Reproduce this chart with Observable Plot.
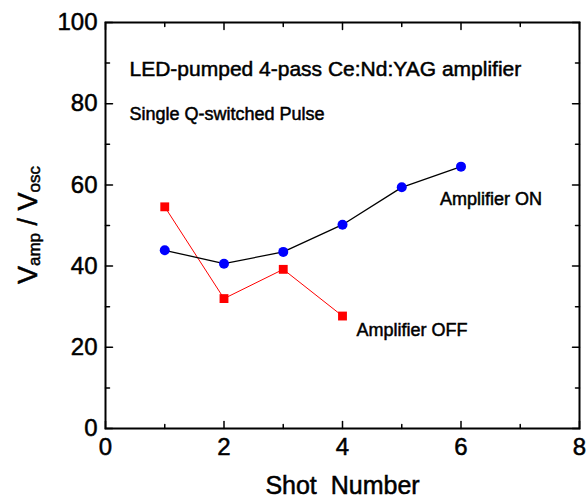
<!DOCTYPE html>
<html>
<head>
<meta charset="utf-8">
<script src="https://cdn.jsdelivr.net/npm/d3@7"></script>
<script src="https://cdn.jsdelivr.net/npm/@observablehq/plot@0.6"></script>
<style>
  body { margin: 0; background: #fff; }
  svg text { white-space: pre; }
</style>
</head>
<body>
<div id="chart"></div>
<script>
// Data
const shotsOn = [1, 2, 3, 4, 5, 6];
const ampOn = [43.9, 40.6, 43.5, 50.2, 59.4, 64.5];
const shotsOff = [1, 2, 3, 4];
const ampOff = [54.6, 32.0, 39.2, 27.7];
const xMajor = [0, 2, 4, 6, 8];
const xMinor = [1, 3, 5, 7];
const yMajor = [0, 20, 40, 60, 80, 100];
const yMinor = [10, 30, 50, 70, 90];
const titleText = "LED-pumped 4-pass Ce:Nd:YAG amplifier";
const subtitleText = "Single Q-switched Pulse";
const onLabel = "Amplifier ON";
const offLabel = "Amplifier OFF";
const xTitle = "Shot  Number";

const onData = shotsOn.map((s, i) => ({shot: s, v: ampOn[i]}));
const offData = shotsOff.map((s, i) => ({shot: s, v: ampOff[i]}));

const tickShape = {draw(context, l) { context.moveTo(0, 0); context.lineTo(0, -l); }};
const font = "'Liberation Sans', Arial, sans-serif";

function ticks(values, len, side) {
  const o = {length: len, anchor: "start", shape: tickShape, stroke: "black", strokeWidth: 1.5};
  if (side === "bottom") return Plot.vector(values, {...o, x: d => d, y: () => 0, rotate: 0});
  if (side === "top") return Plot.vector(values, {...o, x: d => d, y: () => 100, rotate: 180});
  if (side === "left") return Plot.vector(values, {...o, y: d => d, x: () => 0, rotate: 90});
  return Plot.vector(values, {...o, y: d => d, x: () => 8, rotate: -90});
}

const chart = Plot.plot({
  width: 586,
  height: 500,
  marginLeft: 105,
  marginRight: 7,
  marginTop: 22,
  marginBottom: 72,
  style: {fontFamily: font, background: "white", color: "black"},
  x: {domain: [0, 8]},
  y: {domain: [0, 100]},
  marks: [
    Plot.axisX({ticks: xMajor, tickSize: 0, tickPadding: 9, fontSize: 24, label: null, tickFormat: d => String(d)}),
    Plot.axisY({ticks: yMajor, tickSize: 0, tickPadding: 8, fontSize: 24, label: null, tickFormat: d => String(d)}),
    ticks(xMajor, 7, "bottom"), ticks(xMinor, 4, "bottom"),
    ticks(xMajor, 7, "top"), ticks(xMinor, 4, "top"),
    ticks(yMajor, 7, "left"), ticks(yMinor, 4, "left"),
    ticks(yMajor, 7, "right"), ticks(yMinor, 4, "right"),
    Plot.frame({stroke: "black", strokeWidth: 2}),
    Plot.line(offData, {x: "shot", y: "v", stroke: "#ff0000", strokeWidth: 1}),
    Plot.line(onData, {x: "shot", y: "v", stroke: "black", strokeWidth: 1.3}),
    Plot.dot(offData, {x: "shot", y: "v", symbol: "square", r: 5, fill: "#ff0000"}),
    Plot.dot(onData, {x: "shot", y: "v", symbol: "circle", r: 5, fill: "#0000ff"}),
    Plot.text([titleText], {frameAnchor: "top-left", text: d => d, dx: 24, dy: 47, textAnchor: "start", lineAnchor: "middle", fontSize: 21, fill: "black"}),
    Plot.text([subtitleText], {frameAnchor: "top-left", text: d => d, dx: 24, dy: 92, textAnchor: "start", lineAnchor: "middle", fontSize: 18, fill: "black"}),
    Plot.text(onData.slice(-1), {x: "shot", y: "v", text: () => onLabel, dx: -21, dy: 33, textAnchor: "start", lineAnchor: "middle", fontSize: 18, fill: "black"}),
    Plot.text(offData.slice(-1), {x: "shot", y: "v", text: () => offLabel, dx: 14, dy: 14, textAnchor: "start", lineAnchor: "middle", fontSize: 18, fill: "black"}),
    Plot.text([xTitle], {frameAnchor: "bottom", text: d => d, dy: 57, lineAnchor: "middle", fontSize: 25, fill: "black"})
  ]
});

document.getElementById("chart").appendChild(chart);

// Y axis title with subscripts
const svg = d3.select(chart);
const yt = svg.append("text")
  .attr("transform", "translate(30,225) rotate(-90)")
  .attr("text-anchor", "middle")
  .attr("dominant-baseline", "middle")
  .attr("font-family", font)
  .attr("font-size", 27)
  .attr("fill", "black");
yt.append("tspan").text("V");
yt.append("tspan").attr("font-size", 17).attr("dy", 6).text("amp");
yt.append("tspan").attr("dy", -6).text(" / V");
yt.append("tspan").attr("font-size", 17).attr("dy", 6).text("osc");

// slightly heavier glyphs, like the reference rendering
svg.selectAll("text").attr("stroke", "black").attr("stroke-width", 0.5);
</script>
</body>
</html>
